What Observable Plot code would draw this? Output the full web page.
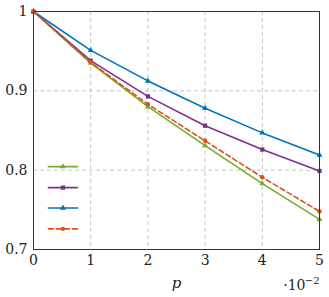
<!DOCTYPE html>
<html><head><meta charset="utf-8">
<script src="https://cdn.jsdelivr.net/npm/d3@7"></script>
<script src="https://cdn.jsdelivr.net/npm/@observablehq/plot@0.6"></script>
<style>body{margin:0;background:#fff}</style>
</head><body><div id="chart"></div>
<script>
const p = [0, 1, 2, 3, 4, 5];
const green = [1, 0.935, 0.880, 0.831, 0.783, 0.738];
const purple = [1, 0.938, 0.893, 0.856, 0.826, 0.799];
const blue = [1, 0.951, 0.9125, 0.878, 0.847, 0.819];
const orange = [1, 0.936, 0.883, 0.837, 0.791, 0.748];
const xTicks = [0, 1, 2, 3, 4, 5];
const yTicks = [0.7, 0.8, 0.9, 1];
const yTickLabels = ["0.7", "0.8", "0.9", "1"];
const seriesNames = ["green", "purple", "blue", "orange"];
const legendX = [0.26, 0.77];
const legendY = [0.8045, 0.778, 0.7523, 0.726];

const styles = {
  green: {color: "#77AC30", symbol: "triangle", r: 2.2, dash: null},
  purple: {color: "#7E2F8E", symbol: "square", r: 2.4, dash: null},
  blue: {color: "#0072BD", symbol: "triangle", r: 2.2, dash: null},
  orange: {color: "#D95319", symbol: "circle", r: 2.2, dash: "5,3"}
};
const values = {green, purple, blue, orange};
const FF = "'DejaVu Serif', 'Liberation Serif', serif";

const marks = [
  Plot.gridX([1, 2, 3, 4], {stroke: "#c4c4c4", strokeOpacity: 1, strokeDasharray: "4,3"}),
  Plot.gridY([0.8, 0.9], {stroke: "#c4c4c4", strokeOpacity: 1, strokeDasharray: "4,3"}),
  Plot.axisX(xTicks, {tickSize: 0, tickPadding: 6, fontSize: 14, fontFamily: FF, label: null}),
  Plot.axisY(yTicks, {tickSize: 0, tickPadding: 6, fontSize: 14, fontFamily: FF, label: null,
    tickFormat: (d) => yTickLabels[yTicks.indexOf(d)]}),
];
seriesNames.forEach((name, k) => {
  const s = styles[name];
  const data = p.map((x, i) => ({x, y: values[name][i]}));
  marks.push(Plot.line(data, {x: "x", y: "y", stroke: s.color, strokeWidth: 1.6, strokeDasharray: s.dash}));
  marks.push(Plot.dot(data, {x: "x", y: "y", fill: s.color, symbol: s.symbol, r: s.r}));
  const leg = legendX.map(x => ({x, y: legendY[k]}));
  marks.push(Plot.line(leg, {x: "x", y: "y", stroke: s.color, strokeWidth: 1.6, strokeDasharray: s.dash}));
  marks.push(Plot.dot([{x: (legendX[0] + legendX[1]) / 2, y: legendY[k]}], {x: "x", y: "y", fill: s.color, symbol: s.symbol, r: s.r}));
});
marks.push(Plot.frame({stroke: "#333", strokeWidth: 1}));
marks.push(Plot.text(["p"], {frameAnchor: "bottom", dy: 34, lineAnchor: "middle", fontStyle: "italic", fontSize: 15, fontFamily: FF}));
marks.push(Plot.text(["·10"], {frameAnchor: "bottom-right", textAnchor: "end", dy: 36, dx: -14, lineAnchor: "middle", fontSize: 14, fontFamily: FF}));
marks.push(Plot.text(["−2"], {frameAnchor: "bottom-right", textAnchor: "end", dy: 31, dx: 0, lineAnchor: "middle", fontSize: 10, fontFamily: FF}));

const chart = Plot.plot({
  width: 329, height: 297,
  marginLeft: 33, marginRight: 10, marginTop: 11, marginBottom: 48,
  style: {fontFamily: FF, fontSize: "14px", color: "#222", background: "#fff"},
  x: {domain: [0, 5]},
  y: {domain: [0.7, 1]},
  marks
});
document.getElementById("chart").appendChild(chart);
</script>
</body></html>
